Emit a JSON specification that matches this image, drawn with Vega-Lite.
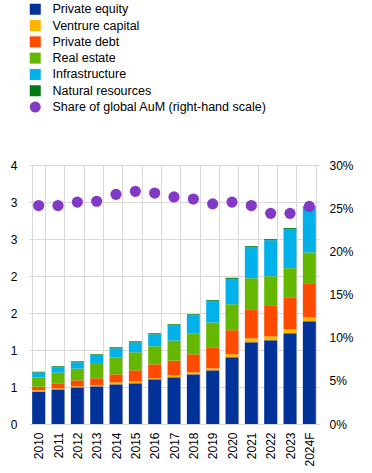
{
  "$schema": "https://vega.github.io/schema/vega-lite/v6.json",
  "width": 290,
  "height": 259,
  "autosize": "none",
  "padding": {"left": 29, "top": 165, "right": 53, "bottom": 49},
  "background": "white",
  "data": {"values": [
    {"year":"2010","series":"Private equity","value":0.44},
    {"year":"2011","series":"Private equity","value":0.468},
    {"year":"2012","series":"Private equity","value":0.495},
    {"year":"2013","series":"Private equity","value":0.509},
    {"year":"2014","series":"Private equity","value":0.536},
    {"year":"2015","series":"Private equity","value":0.55},
    {"year":"2016","series":"Private equity","value":0.604},
    {"year":"2017","series":"Private equity","value":0.631},
    {"year":"2018","series":"Private equity","value":0.671},
    {"year":"2019","series":"Private equity","value":0.725},
    {"year":"2020","series":"Private equity","value":0.901},
    {"year":"2021","series":"Private equity","value":1.104},
    {"year":"2022","series":"Private equity","value":1.131},
    {"year":"2023","series":"Private equity","value":1.226},
    {"year":"2024F","series":"Private equity","value":1.388},
    {"year":"2010","series":"Ventrure capital","value":0.015},
    {"year":"2011","series":"Ventrure capital","value":0.014},
    {"year":"2012","series":"Ventrure capital","value":0.014},
    {"year":"2013","series":"Ventrure capital","value":0.018},
    {"year":"2014","series":"Ventrure capital","value":0.027},
    {"year":"2015","series":"Ventrure capital","value":0.026},
    {"year":"2016","series":"Ventrure capital","value":0.013},
    {"year":"2017","series":"Ventrure capital","value":0.027},
    {"year":"2018","series":"Ventrure capital","value":0.027},
    {"year":"2019","series":"Ventrure capital","value":0.027},
    {"year":"2020","series":"Ventrure capital","value":0.041},
    {"year":"2021","series":"Ventrure capital","value":0.054},
    {"year":"2022","series":"Ventrure capital","value":0.054},
    {"year":"2023","series":"Ventrure capital","value":0.054},
    {"year":"2024F","series":"Ventrure capital","value":0.054},
    {"year":"2010","series":"Private debt","value":0.05},
    {"year":"2011","series":"Private debt","value":0.068},
    {"year":"2012","series":"Private debt","value":0.081},
    {"year":"2013","series":"Private debt","value":0.09},
    {"year":"2014","series":"Private debt","value":0.108},
    {"year":"2015","series":"Private debt","value":0.149},
    {"year":"2016","series":"Private debt","value":0.19},
    {"year":"2017","series":"Private debt","value":0.199},
    {"year":"2018","series":"Private debt","value":0.244},
    {"year":"2019","series":"Private debt","value":0.285},
    {"year":"2020","series":"Private debt","value":0.325},
    {"year":"2021","series":"Private debt","value":0.393},
    {"year":"2022","series":"Private debt","value":0.42},
    {"year":"2023","series":"Private debt","value":0.433},
    {"year":"2024F","series":"Private debt","value":0.461},
    {"year":"2010","series":"Real estate","value":0.125},
    {"year":"2011","series":"Real estate","value":0.144},
    {"year":"2012","series":"Real estate","value":0.158},
    {"year":"2013","series":"Real estate","value":0.208},
    {"year":"2014","series":"Real estate","value":0.23},
    {"year":"2015","series":"Real estate","value":0.244},
    {"year":"2016","series":"Real estate","value":0.243},
    {"year":"2017","series":"Real estate","value":0.27},
    {"year":"2018","series":"Real estate","value":0.284},
    {"year":"2019","series":"Real estate","value":0.334},
    {"year":"2020","series":"Real estate","value":0.351},
    {"year":"2021","series":"Real estate","value":0.419},
    {"year":"2022","series":"Real estate","value":0.392},
    {"year":"2023","series":"Real estate","value":0.393},
    {"year":"2024F","series":"Real estate","value":0.415},
    {"year":"2010","series":"Infrastructure","value":0.065},
    {"year":"2011","series":"Infrastructure","value":0.072},
    {"year":"2012","series":"Infrastructure","value":0.086},
    {"year":"2013","series":"Infrastructure","value":0.103},
    {"year":"2014","series":"Infrastructure","value":0.122},
    {"year":"2015","series":"Infrastructure","value":0.135},
    {"year":"2016","series":"Infrastructure","value":0.162},
    {"year":"2017","series":"Infrastructure","value":0.208},
    {"year":"2018","series":"Infrastructure","value":0.244},
    {"year":"2019","series":"Infrastructure","value":0.288},
    {"year":"2020","series":"Infrastructure","value":0.344},
    {"year":"2021","series":"Infrastructure","value":0.42},
    {"year":"2022","series":"Infrastructure","value":0.487},
    {"year":"2023","series":"Infrastructure","value":0.527},
    {"year":"2024F","series":"Infrastructure","value":0.613},
    {"year":"2010","series":"Natural resources","value":0.012},
    {"year":"2011","series":"Natural resources","value":0.014},
    {"year":"2012","series":"Natural resources","value":0.013},
    {"year":"2013","series":"Natural resources","value":0.014},
    {"year":"2014","series":"Natural resources","value":0.014},
    {"year":"2015","series":"Natural resources","value":0.014},
    {"year":"2016","series":"Natural resources","value":0.014},
    {"year":"2017","series":"Natural resources","value":0.013},
    {"year":"2018","series":"Natural resources","value":0.013},
    {"year":"2019","series":"Natural resources","value":0.014},
    {"year":"2020","series":"Natural resources","value":0.014},
    {"year":"2021","series":"Natural resources","value":0.013},
    {"year":"2022","series":"Natural resources","value":0.014},
    {"year":"2023","series":"Natural resources","value":0.014},
    {"year":"2024F","series":"Natural resources","value":0.01},
    {"year":"2010","series":"Share of global AuM (right-hand scale)","value":0.253},
    {"year":"2011","series":"Share of global AuM (right-hand scale)","value":0.253},
    {"year":"2012","series":"Share of global AuM (right-hand scale)","value":0.257},
    {"year":"2013","series":"Share of global AuM (right-hand scale)","value":0.258},
    {"year":"2014","series":"Share of global AuM (right-hand scale)","value":0.266},
    {"year":"2015","series":"Share of global AuM (right-hand scale)","value":0.2695},
    {"year":"2016","series":"Share of global AuM (right-hand scale)","value":0.2675},
    {"year":"2017","series":"Share of global AuM (right-hand scale)","value":0.263},
    {"year":"2018","series":"Share of global AuM (right-hand scale)","value":0.2606},
    {"year":"2019","series":"Share of global AuM (right-hand scale)","value":0.255},
    {"year":"2020","series":"Share of global AuM (right-hand scale)","value":0.257},
    {"year":"2021","series":"Share of global AuM (right-hand scale)","value":0.253},
    {"year":"2022","series":"Share of global AuM (right-hand scale)","value":0.244},
    {"year":"2023","series":"Share of global AuM (right-hand scale)","value":0.244},
    {"year":"2024F","series":"Share of global AuM (right-hand scale)","value":0.252}
  ]},
  "layer": [
    {
      "transform": [
        {"filter": "datum.series !== 'Share of global AuM (right-hand scale)'"},
        {"calculate": "indexof(['Private equity', 'Ventrure capital', 'Private debt', 'Real estate', 'Infrastructure', 'Natural resources'], datum.series)", "as": "stackOrder"}
      ],
      "mark": {"type": "bar"},
      "encoding": {
        "x": {
          "field": "year", "type": "nominal", "title": null,
          "scale": {"paddingInner": 0.33, "paddingOuter": 0.165},
          "axis": {"labelAngle": 270, "tickBand": "extent", "grid": true, "ticks": false, "domain": false, "labelPadding": 8, "labelAlign": "right", "labelBaseline": "middle"}
        },
        "y": {
          "field": "value", "type": "quantitative", "title": null,
          "scale": {"domain": [0, 3.5], "nice": false},
          "axis": {"orient": "left", "values": [0, 0.5, 1, 1.5, 2, 2.5, 3, 3.5], "format": ".0f", "grid": true, "ticks": false, "domain": false, "labelPadding": 12}
        },
        "order": {"field": "stackOrder", "type": "quantitative", "sort": "ascending"},
        "color": {
          "field": "series", "type": "nominal",
          "scale": {
            "domain": ["Private equity", "Ventrure capital", "Private debt", "Real estate", "Infrastructure", "Natural resources", "Share of global AuM (right-hand scale)"],
            "range": ["#003299", "#FFB400", "#FF4B00", "#65B800", "#00B1EA", "#007816", "#8139C6"]
          },
          "legend": {
            "orient": "none", "legendX": 0, "legendY": -162, "title": null,
            "symbolType": "square", "symbolSize": 121, "labelFontSize": 12.5, "labelOffset": 11, "labelLimit": 320,
            "rowPadding": 3.3, "padding": 0, "symbolStrokeWidth": 0,
            "encode": {"symbols": {"update": {"shape": {"signal": "datum.value === 'Share of global AuM (right-hand scale)' ? 'circle' : 'square'"}}}}
          }
        }
      }
    },
    {
      "transform": [{"filter": "datum.series === 'Share of global AuM (right-hand scale)'"}],
      "mark": {"type": "circle", "size": 125, "opacity": 1},
      "encoding": {
        "x": {"field": "year", "type": "nominal"},
        "y": {
          "field": "value", "type": "quantitative", "title": null,
          "scale": {"domain": [0, 0.3], "nice": false},
          "axis": {"orient": "right", "values": [0, 0.05, 0.1, 0.15, 0.2, 0.25, 0.3], "format": ".0%", "grid": false, "ticks": false, "domain": false, "labelPadding": 10}
        },
        "color": {"field": "series", "type": "nominal"}
      }
    }
  ],
  "resolve": {"scale": {"y": "independent"}},
  "config": {
    "view": {"stroke": null},
    "font": "Liberation Sans",
    "axis": {"labelFont": "Liberation Sans", "labelFontSize": 12, "labelColor": "#000000", "gridColor": "#d9d9d9", "gridWidth": 1, "gridOpacity": 1},
    "legend": {"labelFont": "Liberation Sans", "labelColor": "#000000"}
  }
}
